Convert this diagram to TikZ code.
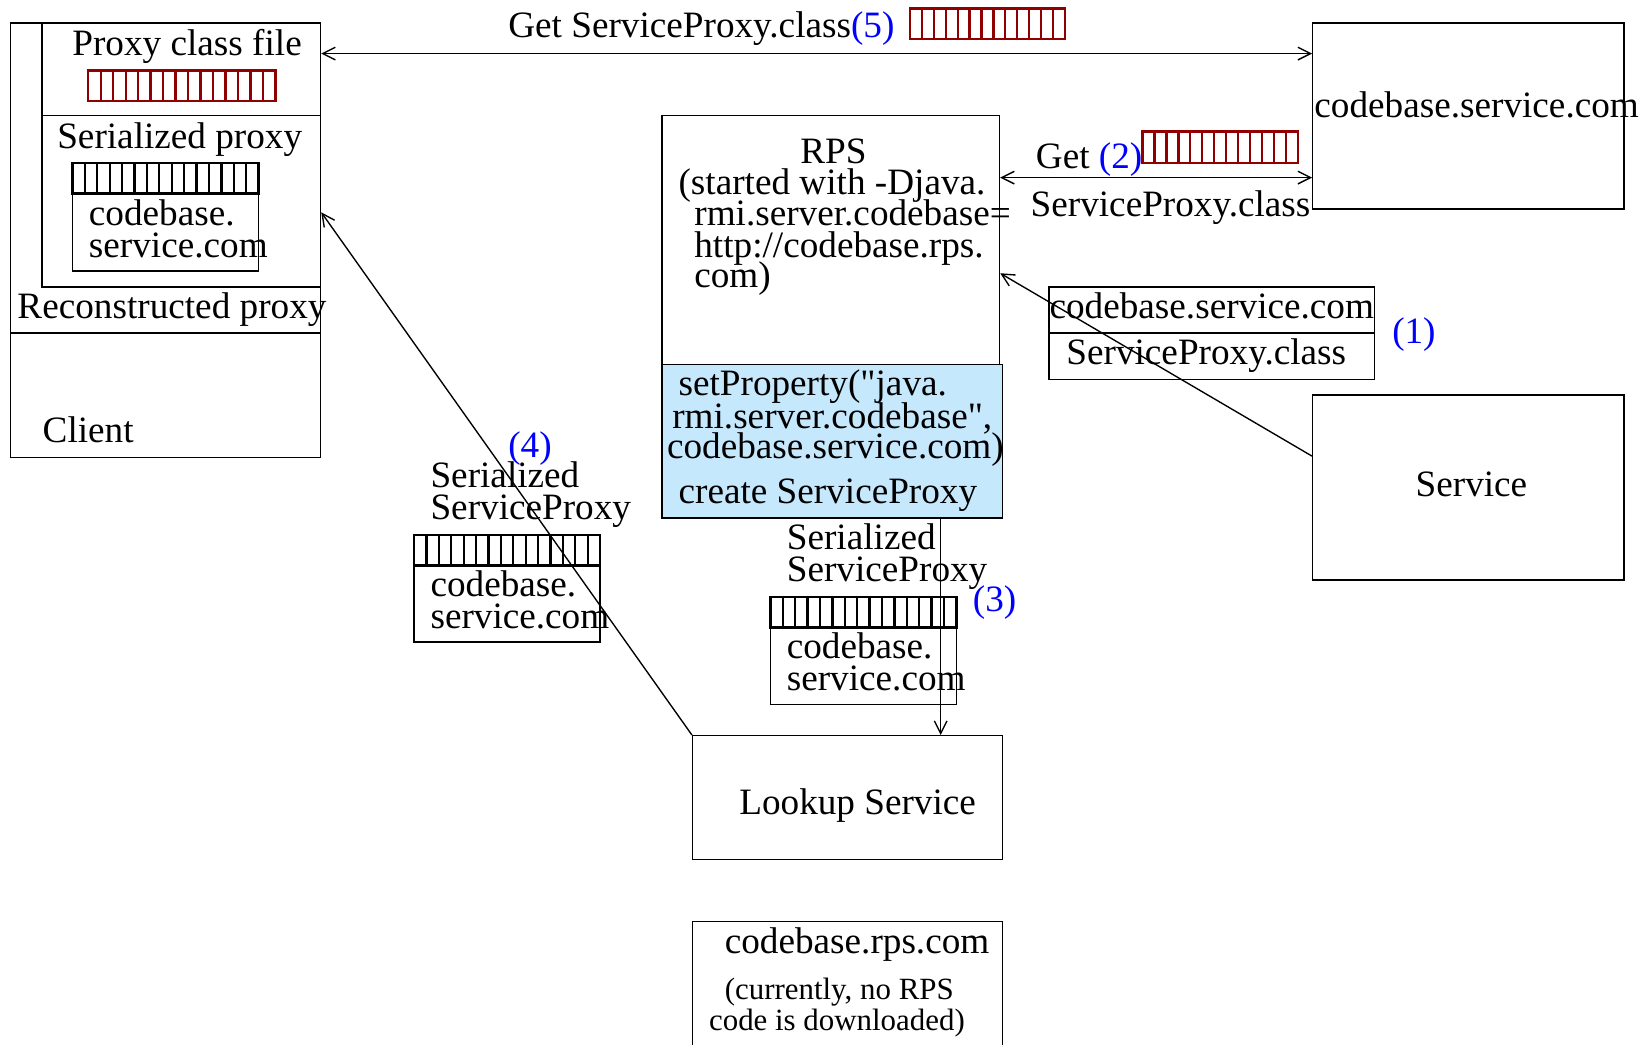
\documentclass[tikz,border=0pt]{standalone}
\usepackage{fontspec}
\setmainfont{Liberation Serif}[Ligatures=TeXOff]
\usetikzlibrary{arrows.meta,fit}
\definecolor{proxyred}{RGB}{144,0,0}
\definecolor{rpsblue}{RGB}{198,232,252}

\begin{document}
\begin{tikzpicture}[x=0.5pt,y=-0.5pt,line width=0.65pt,
        font=\fontsize{17.7pt}{15pt}\selectfont,
        >={Straight Barb[length=6pt,width=6pt]},
        box/.style={draw,inner sep=0pt},
        lbl/.style={inner sep=0pt,anchor=base west,align=left},
        note/.style={lbl,font=\fontsize{14.7pt}{14.5pt}\selectfont}]
        \useasboundingbox (0,0) rectangle (1568,994);
        \node[box,fit={(10,22) (305,435)}] (client) {};
        \node[box,fit={(40,22) (305,110)}] (proxyfile) {};
        \node[box,fit={(40,110) (305,273)}] (serproxy) {};
        \node[box,fit={(10,22) (305,317)}] (recon) {};
        \node[box,fit={(69,184) (246,258)}] (clientcb) {};
        \node[box,fit={(1249,22) (1545,199)}] (cbs) {};
        \node[box,fit={(630,110) (951,347)}] (rps) {};
        \node[box,fit={(630,347) (954,493)},fill=rpsblue] (setprop) {};
        \node[box,fit={(998,273) (1308,317)}] (cbhost) {};
        \node[box,fit={(998,317) (1308,361)}] (cbclass) {};
        \node[box,fit={(1249,376) (1545,552)}] (service) {};
        \node[box,fit={(659,700) (954,818)}] (lookup) {};
        \node[box,fit={(394,538) (571,611)}] (sercb4) {};
        \node[box,fit={(733,597) (910,670)}] (sercb3) {};
        \draw (659,994) |- (954,877) -- (954,994);
        \foreach \xa/\ya/\xb/\yb/\n/\col [evaluate=\n as \m using {int(\n-1)}] in
            {84/67/262/96/15/proxyred, 69/155/246/184/15/black, 866/8/1013/37/13/proxyred,
             1087/125/1235/155/13/proxyred, 394/509/571/538/15/black, 733/568/910/597/15/black}
            {\draw[\col,line width=1.1pt] (\xa,\ya) rectangle (\xb,\yb);
             \foreach \k in {1,...,\m}
                {\draw[\col,line width=1.1pt] ({\xa+\k*(\xb-\xa)/\n},\ya) -- ({\xa+\k*(\xb-\xa)/\n},\yb);}
            }
        \node[lbl,anchor=base] (proxylbl) at (178,53) {Proxy class file};
        \node[lbl,anchor=base] (serlbl) at (171,141) {Serialized proxy};
        \node[lbl] (clientcbl) at (84,245) {codebase.\\service.com};
        \node[lbl] (reconlbl) at (16,303) {Reconstructed proxy};
        \node[lbl] (clientlbl) at (40,421) {Client};
        \node[lbl] (get5) at (483,36) {Get ServiceProxy.class\textcolor{blue}{(5)}};
        \node[lbl] (cbslbl) at (1250,112) {codebase.service.com};
        \node[lbl,anchor=base] (rpslbl) at (793,156) {RPS};
        \foreach \x/\y/\t [count=\i] in {645/185/{(started with -Djava.}, 660/215/{rmi.server.codebase=},
            660/245/{http://codebase.rps.}, 660/274/{com)}}
            {\node[lbl] (rpsopt\i) at (\x,\y) {\t};}
        \foreach \x/\y/\t [count=\i] in {645/376/{setProperty("java.}, 639/408/{rmi.server.codebase",},
            634/436/{codebase.service.com)}, 645/479/{create ServiceProxy}}
            {\node[lbl] (set\i) at (\x,\y) {\t};}
        \node[lbl] (get2) at (985,160) {Get \textcolor{blue}{(2)}};
        \node[lbl] (class2) at (980,206) {ServiceProxy.class};
        \node[lbl] (hostlbl) at (998,303) {codebase.service.com};
        \node[lbl] (classlbl) at (1014,347) {ServiceProxy.class};
        \node[lbl,blue] (num1) at (1324,327) {(1)};
        \node[lbl,anchor=base] (servicelbl) at (1400,472) {Service};
        \node[lbl,anchor=base] (lookuplbl) at (816,775) {Lookup Service};
        \node[lbl,blue] (num4) at (483,435) {(4)};
        \node[lbl] (ser4) at (409,494) {Serialized\\ServiceProxy};
        \node[lbl] (cb4) at (409,598) {codebase.\\service.com};
        \node[lbl] (ser3) at (748,553) {Serialized\\ServiceProxy};
        \node[lbl,blue] (num3) at (925,582) {(3)};
        \node[lbl] (cb3) at (748,657) {codebase.\\service.com};
        \node[lbl] (rpshost) at (689,907) {codebase.rps.com};
        \node[note] (rpsnote1) at (689,951) {(currently, no RPS};
        \node[note] (rpsnote2) at (674,980) {code is downloaded)};
        \coordinate (y5) at (0,51);
        \coordinate (y2) at (0,169);
        \coordinate (y1) at (0,260);
        \coordinate (y1s) at (0,434);
        \coordinate (y4) at (0,202);
        \coordinate (x3) at (895,0);
        \draw[<->] (proxyfile.east |- y5) -- (cbs.west |- y5);
        \draw[<->] (rps.east |- y2) -- (cbs.west |- y2);
        \draw[->] (service.west |- y1s) -- (rps.east |- y1);
        \draw[->] (setprop.south -| x3) -- (lookup.north -| x3);
        \draw[->] (lookup.north west) -- (serproxy.east |- y4);
\end{tikzpicture}
\end{document}
